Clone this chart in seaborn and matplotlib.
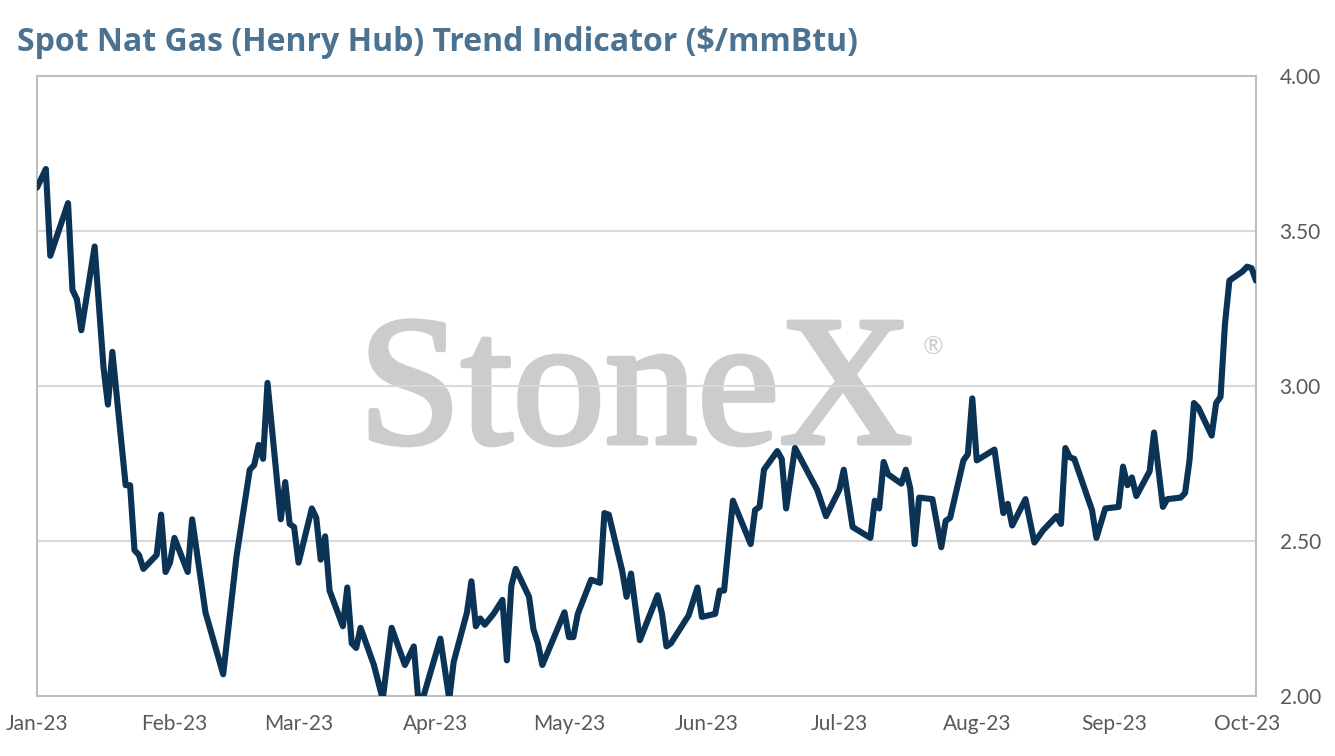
import pandas as pd
import seaborn as sns
import matplotlib.pyplot as plt
import matplotlib.patheffects as pe

# spot Henry Hub, $/mmBtu (days counted from 1 Jan 2023)
start = "2023-01-01"
days = [0, 2, 3, 7, 8, 9, 10, 13, 15, 16, 17, 20, 21, 22, 23, 24, 27, 28, 29, 30,
        31, 34, 35, 38, 42, 45, 48, 49, 50, 51, 52, 55, 56, 57, 58, 59, 62, 63, 64, 65,
        66, 69, 70, 71, 72, 73, 76, 78, 80, 83, 85, 86, 87, 91, 93, 94, 97, 98, 99, 100,
        101, 103, 105, 106, 107, 108, 111, 112, 113, 114, 119, 120, 121, 122, 125, 127, 128, 129, 132, 133,
        134, 136, 140, 141, 142, 143, 147, 149, 150, 153, 154, 155, 157, 161, 162, 163, 164, 167, 168, 169,
        171, 176, 178, 181, 182, 184, 188, 189, 190, 191, 192, 195, 196, 197, 198, 199, 202, 204, 205, 206,
        209, 210, 211, 212, 216, 218, 219, 220, 223, 225, 227, 230, 231, 232, 233, 234, 238, 239, 241, 244,
        245, 246, 247, 248, 251, 252, 254, 255, 258, 259, 260, 261, 262, 265, 266, 267, 268, 269, 272, 273,
        274, 275]
prices = [3.64, 3.70, 3.42, 3.59, 3.31, 3.28, 3.18, 3.45, 3.06, 2.94, 3.11, 2.68, 2.68, 2.47, 2.455, 2.41, 2.455, 2.585, 2.40, 2.43,
          2.51, 2.40, 2.57, 2.27, 2.07, 2.45, 2.73, 2.745, 2.81, 2.765, 3.01, 2.57, 2.69, 2.555, 2.545, 2.43, 2.605, 2.575, 2.44, 2.515,
          2.34, 2.225, 2.35, 2.17, 2.155, 2.22, 2.10, 1.99, 2.22, 2.10, 2.16, 1.99, 1.99, 2.185, 1.99, 2.11, 2.27, 2.37, 2.225, 2.25,
          2.23, 2.265, 2.31, 2.115, 2.355, 2.41, 2.32, 2.215, 2.17, 2.10, 2.27, 2.19, 2.19, 2.265, 2.375, 2.365, 2.59, 2.585, 2.405, 2.32,
          2.395, 2.18, 2.325, 2.265, 2.16, 2.17, 2.26, 2.35, 2.255, 2.265, 2.34, 2.34, 2.63, 2.49, 2.60, 2.61, 2.73, 2.79, 2.765, 2.605,
          2.80, 2.665, 2.58, 2.665, 2.73, 2.545, 2.51, 2.63, 2.605, 2.755, 2.715, 2.685, 2.73, 2.67, 2.49, 2.64, 2.635, 2.48, 2.565, 2.575,
          2.76, 2.78, 2.96, 2.76, 2.795, 2.59, 2.62, 2.55, 2.635, 2.495, 2.535, 2.58, 2.555, 2.80, 2.77, 2.765, 2.60, 2.51, 2.605, 2.61,
          2.74, 2.68, 2.705, 2.645, 2.725, 2.85, 2.61, 2.635, 2.64, 2.655, 2.76, 2.945, 2.93, 2.84, 2.945, 2.965, 3.20, 3.34, 3.37, 3.385,
          3.38, 3.34]

tick_dates = ["2023-01-01", "2023-02-01", "2023-03-01", "2023-04-01", "2023-05-01",
              "2023-06-01", "2023-07-01", "2023-08-01", "2023-09-01", "2023-10-01"]
tick_labels = ["Jan-23", "Feb-23", "Mar-23", "Apr-23", "May-23",
               "Jun-23", "Jul-23", "Aug-23", "Sep-23", "Oct-23"]
y_ticks = [2.0, 2.5, 3.0, 3.5, 4.0]

df = pd.DataFrame({"date": pd.Timestamp(start) + pd.to_timedelta(days, unit="D"),
                   "price": prices})

sns.set_style("white")
plt.rcParams["font.family"] = ["Lato", "DejaVu Sans"]

fig = plt.figure(figsize=(13.35, 7.56), dpi=100)
ax = fig.add_axes([37 / 1335, 60 / 756, 1219 / 1335, 620 / 756])

sns.lineplot(data=df, x="date", y="price", ax=ax, color="#0b3356", linewidth=4.4,
             solid_joinstyle="round", solid_capstyle="round", zorder=3)

ax.set_xlim(df["date"].iloc[0], df["date"].iloc[-1])
ax.set_ylim(2.0, 4.0)
ax.yaxis.tick_right()
ax.set_yticks(y_ticks)
ax.set_yticklabels([f"{v:.2f}" for v in y_ticks])
ax.set_xticks(pd.to_datetime(tick_dates))
ax.set_xticklabels(tick_labels)
ax.tick_params(length=0, labelsize=15, colors="#595959")
ax.tick_params(axis="y", pad=17)
ax.tick_params(axis="x", pad=13)
ax.set_xlabel("")
ax.set_ylabel("")

ax.grid(axis="y", color="#d9d9d9", linewidth=1.5)
ax.set_axisbelow(True)
for s in ax.spines.values():
    s.set_color("#bfbfbf")
    s.set_linewidth(1.5)

# watermark - regular serif thickened a bit with a stroke
wm_color = "#cbccce"
ax.text(0.491, 0.408, "StoneX", transform=ax.transAxes, ha="center", va="baseline",
        fontsize=133, family="Liberation Serif", color=wm_color, zorder=0.2,
        path_effects=[pe.withStroke(linewidth=3.5, foreground=wm_color)])
ax.text(0.735, 0.563, "\u00ae", transform=ax.transAxes, ha="center", va="center",
        fontsize=18, color=wm_color, zorder=0.2)

fig.text(17 / 1335, 1 - 51 / 756, "Spot Nat Gas (Henry Hub) Trend Indicator ($/mmBtu)",
         fontsize=23, weight="bold", family=["Open Sans", "DejaVu Sans"],
         color="#4b7391", va="baseline")

fig.savefig("out.png", dpi=100)
